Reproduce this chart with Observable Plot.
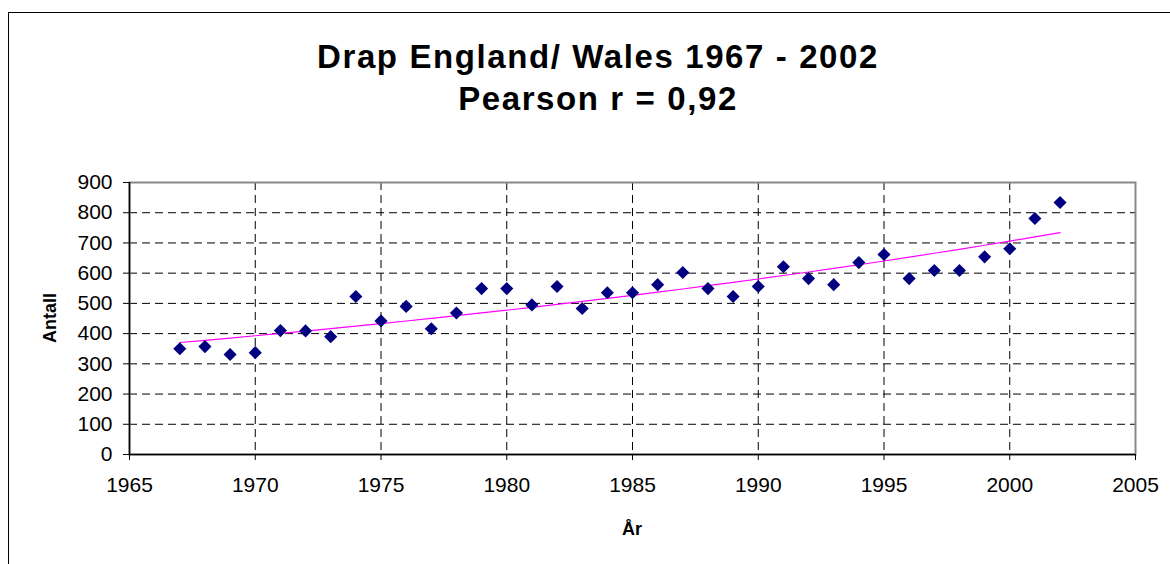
<!DOCTYPE html>
<html>
<head>
<meta charset="utf-8">
<script src="https://cdn.jsdelivr.net/npm/d3@7"></script>
<script src="https://cdn.jsdelivr.net/npm/@observablehq/plot@0.6"></script>
<style>
  html, body { margin: 0; padding: 0; background: #fff; overflow: hidden; width: 1170px; height: 564px; }
  #wrap { position: relative; width: 1170px; height: 564px; font-family: "Liberation Sans", Arial, sans-serif; color: #000; }
  #frame { position: absolute; left: 8px; top: 12px; width: 1200px; height: 600px; border: 1.5px solid #000; box-sizing: border-box; }
  #title { position: absolute; left: 0; top: 36px; width: 1196px; text-align: center; font-weight: bold; font-size: 33px; letter-spacing: 1.6px; line-height: 42px; }
  #chart { position: absolute; left: 0; top: 0; }
  #xlab { position: absolute; left: 582px; top: 520px; width: 100px; text-align: center; font-weight: bold; font-size: 18px; line-height: 18px; }
  #ylab { position: absolute; left: 0px; top: 308px; width: 100px; height: 20px; text-align: center; font-weight: bold; font-size: 18px; line-height: 20px; transform: rotate(-90deg); }
</style>
</head>
<body>
<div id="wrap">
  <div id="frame"></div>
  <div id="chart"></div>
  <div id="title">Drap England/ Wales 1967 - 2002<br>Pearson r = 0,92</div>
  <div id="xlab">År</div>
  <div id="ylab">Antall</div>
</div>
<script>
const years = [1967,1968,1969,1970,1971,1972,1973,1974,1975,1976,1977,1978,1979,1980,1981,1982,1983,1984,1985,1986,1987,1988,1989,1990,1991,1992,1993,1994,1995,1996,1997,1998,1999,2000,2001,2002];
const counts = [350,357,331,337,410,409,390,523,442,490,416,468,549,549,495,556,483,535,535,562,602,549,523,556,621,582,562,635,662,582,609,609,654,681,781,834];
const xTicks = [1965,1970,1975,1980,1985,1990,1995,2000,2005];
const yTicks = [0,100,200,300,400,500,600,700,800,900];

const data = years.map((y, i) => ({year: y, count: counts[i]}));

// Exponential trendline (least squares on ln(count)), as in the spreadsheet chart
const mx = d3.mean(years), ml = d3.mean(counts, c => Math.log(c));
let sxy = 0, sxx = 0;
years.forEach((y, i) => { sxy += (y - mx) * (Math.log(counts[i]) - ml); sxx += (y - mx) ** 2; });
const b = sxy / sxx, a = ml - b * mx;
const trend = years.map(y => ({year: y, fit: Math.exp(a + b * y)}));

const chart = Plot.plot({
  width: 1170,
  height: 564,
  marginLeft: 129,
  marginRight: 35,
  marginTop: 182,
  marginBottom: 110,
  style: {fontFamily: '"Liberation Sans", Arial, sans-serif', fontSize: "21px", color: "#000", background: "transparent"},
  x: {domain: [1965, 2005], ticks: xTicks, tickFormat: d => String(d), label: null},
  y: {domain: [0, 900], ticks: yTicks, label: null},
  marks: [
    Plot.gridY(yTicks.filter(t => t > 0 && t < 900), {stroke: "#000", strokeOpacity: 1, strokeWidth: 1, strokeDasharray: "8,5"}),
    Plot.gridX(xTicks.filter(t => t > 1965 && t < 2005), {stroke: "#000", strokeOpacity: 1, strokeWidth: 1, strokeDasharray: "8,5"}),
    Plot.frame({stroke: "#888", strokeWidth: 2}),
    Plot.ruleY([0], {stroke: "#000", strokeWidth: 1.5}),
    Plot.ruleX([1965], {stroke: "#000", strokeWidth: 1.5}),
    Plot.axisX({ticks: xTicks, tickFormat: d => String(d), tickSize: 6, tickPadding: 17, label: null}),
    Plot.axisY({ticks: yTicks, tickSize: 6, tickPadding: 11, label: null}),
    Plot.line(trend, {x: "year", y: "fit", stroke: "#ff00ff", strokeWidth: 1.2}),
    Plot.dot(data, {x: "year", y: "count", symbol: "diamond2", r: 5.9, fill: "#000080", stroke: "none"})
  ]
});
document.getElementById("chart").appendChild(chart);
</script>
</body>
</html>
